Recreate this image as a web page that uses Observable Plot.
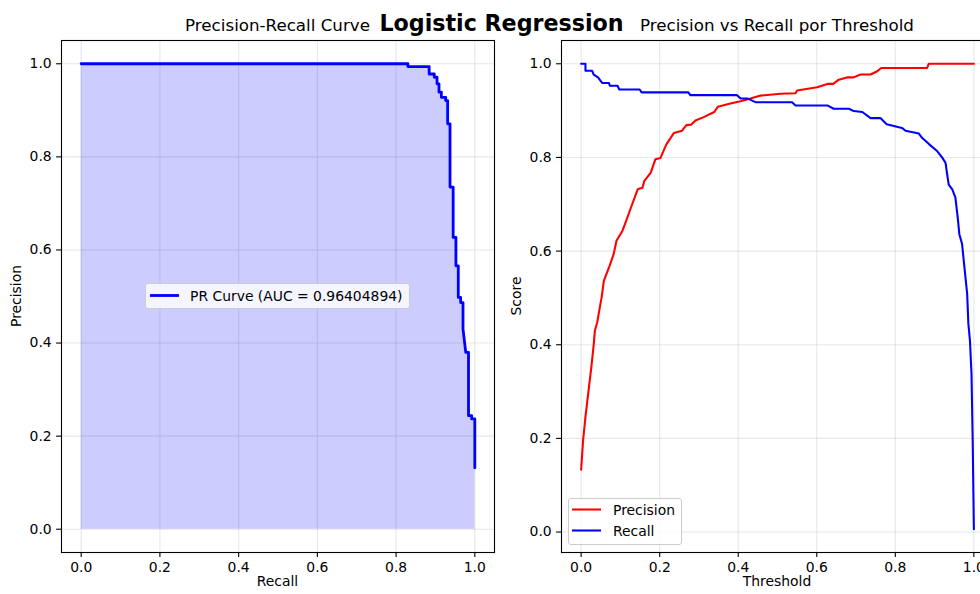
<!DOCTYPE html>
<html><head><meta charset="utf-8">
<script src="https://cdn.jsdelivr.net/npm/d3@7"></script>
<script src="https://cdn.jsdelivr.net/npm/@observablehq/plot@0.6"></script>
<style>
html,body{margin:0;padding:0;background:#fff;overflow:hidden;}
#fig{position:relative;width:980px;height:594px;overflow:hidden;background:#fff;font-family:"DejaVu Sans",sans-serif;}
#fig > svg{position:absolute;top:0;}
</style></head><body><div id="fig"></div>
<script>
// ---------- data ----------
const suptitle = "Logistic Regression";
const leftTitle = "Precision-Recall Curve";
const rightTitle = "Precision vs Recall por Threshold";
const leftXLabel = "Recall", leftYLabel = "Precision";
const rightXLabel = "Threshold", rightYLabel = "Score";
const prLegend = "PR Curve (AUC = 0.96404894)";
const seriesNames = ["Precision", "Recall"];

const tickValues = [0, 0.2, 0.4, 0.6, 0.8, 1.0];
const tickLabels = ["0.0", "0.2", "0.4", "0.6", "0.8", "1.0"];

// PR curve (left panel)
const prRecall = [0, 0.830, 0.830, 0.884, 0.884, 0.897, 0.897, 0.904, 0.904, 0.909, 0.909, 0.915, 0.915, 0.926, 0.926, 0.931, 0.931, 0.937, 0.937, 0.945, 0.945, 0.952, 0.952, 0.958, 0.958, 0.964, 0.964, 0.970, 0.970, 0.977, 0.984, 0.984, 0.992, 0.992, 1.0, 1.0];
const prPrecision = [1.0, 1.0, 0.994, 0.994, 0.978, 0.978, 0.971, 0.971, 0.957, 0.957, 0.939, 0.939, 0.928, 0.928, 0.921, 0.921, 0.871, 0.871, 0.735, 0.735, 0.627, 0.627, 0.566, 0.566, 0.498, 0.498, 0.487, 0.487, 0.430, 0.380, 0.380, 0.244, 0.244, 0.237, 0.237, 0.132];

// Precision vs threshold (right panel, red)
const thrP = [0, 0.005, 0.011, 0.020, 0.026, 0.032, 0.035, 0.041, 0.048, 0.052, 0.058, 0.071, 0.083, 0.090, 0.105, 0.113, 0.130, 0.144, 0.156, 0.161, 0.177, 0.189, 0.202, 0.217, 0.236, 0.257, 0.268, 0.280, 0.291, 0.312, 0.339, 0.348, 0.380, 0.406, 0.427, 0.457, 0.508, 0.546, 0.550, 0.601, 0.627, 0.642, 0.656, 0.679, 0.694, 0.711, 0.737, 0.754, 0.764, 0.881, 0.885, 1.0];
const precisionVals = [0.133, 0.196, 0.246, 0.310, 0.352, 0.400, 0.430, 0.448, 0.482, 0.500, 0.537, 0.565, 0.594, 0.622, 0.643, 0.661, 0.700, 0.732, 0.735, 0.750, 0.767, 0.796, 0.799, 0.828, 0.852, 0.857, 0.869, 0.870, 0.879, 0.886, 0.897, 0.908, 0.915, 0.920, 0.925, 0.932, 0.936, 0.937, 0.943, 0.950, 0.957, 0.957, 0.966, 0.971, 0.971, 0.977, 0.977, 0.984, 0.991, 0.991, 1.0, 1.0];

// Recall vs threshold (right panel, blue)
const thrR = [0, 0.011, 0.011, 0.028, 0.032, 0.043, 0.049, 0.054, 0.071, 0.073, 0.093, 0.097, 0.149, 0.154, 0.273, 0.278, 0.397, 0.406, 0.423, 0.444, 0.537, 0.546, 0.627, 0.643, 0.682, 0.694, 0.716, 0.737, 0.762, 0.778, 0.817, 0.826, 0.860, 0.868, 0.885, 0.907, 0.920, 0.928, 0.932, 0.936, 0.945, 0.953, 0.959, 0.963, 0.970, 0.976, 0.983, 0.986, 0.990, 0.994, 0.997, 1.0];
const recallVals = [1.0, 1.0, 0.985, 0.985, 0.977, 0.971, 0.964, 0.959, 0.959, 0.953, 0.953, 0.945, 0.945, 0.939, 0.939, 0.933, 0.933, 0.926, 0.926, 0.918, 0.918, 0.911, 0.911, 0.904, 0.904, 0.899, 0.897, 0.884, 0.884, 0.871, 0.863, 0.857, 0.851, 0.842, 0.829, 0.813, 0.799, 0.788, 0.764, 0.742, 0.732, 0.714, 0.671, 0.636, 0.615, 0.565, 0.508, 0.445, 0.409, 0.338, 0.196, 0.006];

// ---------- build ----------
const pr = prRecall.map((r, i) => ({r, p: prPrecision[i]}));
const precRows = thrP.map((t, i) => ({t, v: precisionVals[i]}));
const recRows = thrR.map((t, i) => ({t, v: recallVals[i]}));

const FS = 13.9;
const style = {fontFamily: "DejaVu Sans", fontSize: FS + "px", color: "#000", background: "transparent", overflow: "visible"};
const fmt = d => tickLabels[tickValues.indexOf(d)] ?? d.toFixed(1);
const gridOpts = {ticks: tickValues, stroke: "#b0b0b0", strokeOpacity: 0.3, strokeWidth: 1.1};
const axisOpts = {ticks: tickValues, tickFormat: fmt, tickSize: 4.9, tickPadding: 4.9, label: null, strokeWidth: 1.1, fontSize: FS};

const left = Plot.plot({
  width: 500, height: 594,
  marginLeft: 61, marginRight: 6, marginTop: 40, marginBottom: 42,
  x: {domain: [-0.05, 1.05]},
  y: {domain: [-0.05, 1.05]},
  style,
  marks: [
    Plot.gridX(gridOpts),
    Plot.gridY(gridOpts),
    Plot.areaY(pr, {x: "r", y1: 0, y2: "p", fill: "blue", fillOpacity: 0.2}),
    Plot.line(pr, {x: "r", y: "p", stroke: "blue", strokeWidth: 2.8, strokeLinejoin: "round"}),
    Plot.frame({stroke: "#000", strokeWidth: 1.1}),
    Plot.axisX(axisOpts),
    Plot.axisY(axisOpts)
  ]
});
left.style.left = "0px";

const right = Plot.plot({
  width: 500, height: 594,
  marginLeft: 61, marginRight: 7, marginTop: 40, marginBottom: 42,
  x: {domain: [-0.05, 1.05]},
  y: {domain: [-0.0437, 1.0497]},
  style,
  marks: [
    Plot.gridX(gridOpts),
    Plot.gridY(gridOpts),
    Plot.line(precRows, {x: "t", y: "v", stroke: "red", strokeWidth: 2.08, strokeLinejoin: "round"}),
    Plot.line(recRows, {x: "t", y: "v", stroke: "blue", strokeWidth: 2.08, strokeLinejoin: "round"}),
    Plot.frame({stroke: "#000", strokeWidth: 1.1}),
    Plot.axisX(axisOpts),
    Plot.axisY(axisOpts)
  ]
});
right.style.left = "500px";

const fig = document.getElementById("fig");
fig.appendChild(left);
fig.appendChild(right);

// ---------- titles, axis labels, legends ----------
const ov = d3.select(fig).append("svg")
  .attr("width", 980).attr("height", 594)
  .style("left", "0px").style("pointer-events", "none")
  .style("font-family", "DejaVu Sans");

ov.append("text").attr("x", 501.5).attr("y", 31).attr("text-anchor", "middle")
  .attr("font-size", 22.2).attr("font-weight", "bold").text(suptitle);
ov.append("text").attr("x", 277.5).attr("y", 31).attr("text-anchor", "middle")
  .attr("font-size", 16.7).text(leftTitle);
ov.append("text").attr("x", 777).attr("y", 31).attr("text-anchor", "middle")
  .attr("font-size", 16.7).text(rightTitle);

ov.append("text").attr("x", 277.5).attr("y", 586).attr("text-anchor", "middle")
  .attr("font-size", FS).text(leftXLabel);
ov.append("text").attr("x", 777).attr("y", 586).attr("text-anchor", "middle")
  .attr("font-size", FS).text(rightXLabel);
ov.append("text").attr("transform", "translate(20.5,296) rotate(-90)").attr("text-anchor", "middle")
  .attr("font-size", FS).text(leftYLabel);
ov.append("text").attr("transform", "translate(520.5,296) rotate(-90)").attr("text-anchor", "middle")
  .attr("font-size", FS).text(rightYLabel);

// left legend
const lg1 = ov.append("g");
lg1.append("rect").attr("x", 145.5).attr("y", 283.5).attr("width", 264).attr("height", 25).attr("rx", 2.5)
  .attr("fill", "#fff").attr("fill-opacity", 0.8).attr("stroke", "#cccccc").attr("stroke-width", 1);
lg1.append("line").attr("x1", 150).attr("x2", 179).attr("y1", 295.5).attr("y2", 295.5)
  .attr("stroke", "blue").attr("stroke-width", 2.8);
lg1.append("text").attr("x", 190).attr("y", 300.5).attr("font-size", FS).text(prLegend);

// right legend
const lg2 = ov.append("g");
lg2.append("rect").attr("x", 568.5).attr("y", 498.5).attr("width", 113).attr("height", 46).attr("rx", 2.5)
  .attr("fill", "#fff").attr("fill-opacity", 0.8).attr("stroke", "#cccccc").attr("stroke-width", 1);
const legColors = ["red", "blue"];
seriesNames.forEach((name, i) => {
  const y = 509.5 + i * 21;
  lg2.append("line").attr("x1", 572).attr("x2", 601).attr("y1", y).attr("y2", y)
    .attr("stroke", legColors[i]).attr("stroke-width", 2.08);
  lg2.append("text").attr("x", 613).attr("y", y + 5).attr("font-size", FS).text(name);
});
</script></body></html>
